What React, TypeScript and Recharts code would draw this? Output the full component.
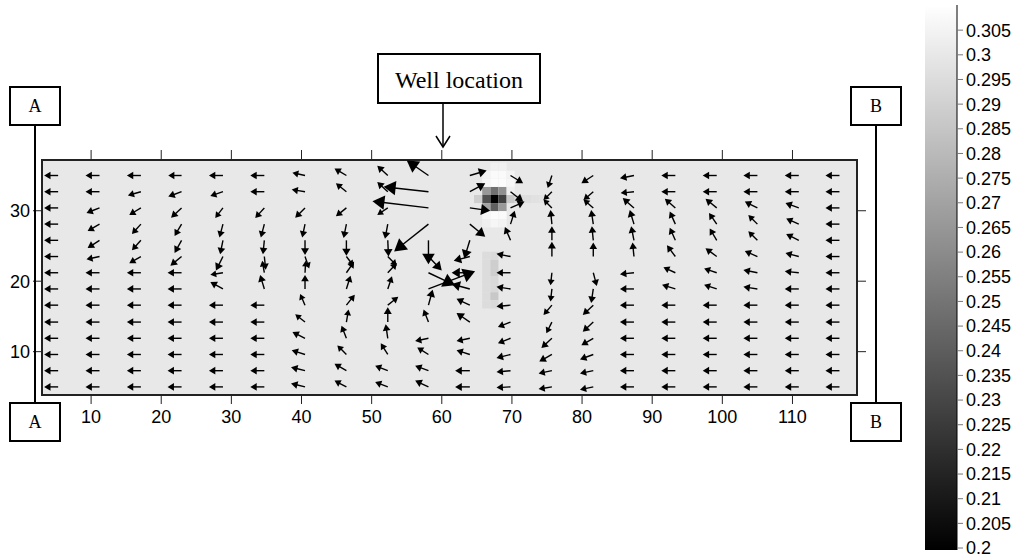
import React from "react";
import { ComposedChart, Scatter, Bar, XAxis, YAxis, ReferenceArea } from "recharts";

// arrow tail positions (model coordinates)
const gridX = [5.3, 11.2, 17.1, 22.9, 28.8, 34.7, 40.5, 46.4, 52.3, 58.1, 64.0, 69.8, 75.7, 81.6, 87.4, 93.3, 99.2, 105.0, 110.9, 116.7];
const gridY = [35.0, 32.7, 30.4, 28.1, 25.8, 23.5, 21.2, 18.9, 16.6, 14.2, 11.9, 9.6, 7.3, 5.0];

// velocity components, one row per gridY entry, one column per gridX entry
const U = [
  [-1, -1, -1, -0.95, -1, -1, -0.9, -0.85, -0.75, -1.55, 1.2, 0.9, -0.3, -0.85, -1, -1, -1, -1, -1, -1],
  [-1, -1, -0.93, -0.95, -0.9, -1, -0.95, -0.75, -0.75, -3.2, 1.1, 0.9, -0.6, -0.7, -0.95, -1, -1, -1, -1, -1],
  [-1, -0.93, -0.83, -0.75, -0.55, -0.65, -0.7, -0.75, -0.75, -4.0, 1.45, 1.0, -0.6, -0.7, -0.8, -0.75, -0.8, -0.9, -0.95, -1],
  [-1, -0.85, -0.64, -0.5, -0.25, -0.25, -0.2, -0.2, -0.2, -2.45, 1.1, 0.3, -0.1, -0.15, -0.3, -0.4, -0.55, -0.65, -0.9, -1],
  [-1, -0.85, -0.64, -0.5, -0.2, -0.1, 0, 0, 0.05, 0, -0.4, -0.4, 0, -0.1, -0.2, -0.4, -0.5, -0.65, -0.9, -1],
  [-1, -0.93, -0.83, -0.8, -0.5, 0.1, 0.3, 0.5, 0.65, 0.95, -1.15, -1, 0, 0, -0.1, -0.6, -0.8, -0.9, -0.95, -1],
  [-1, -1, -1, -1, -0.9, -0.15, 0.05, 0.55, 0.65, 1.9, -1.3, -1, -0.1, 0.25, -1, -0.85, -0.9, -1, -1, -1],
  [-1, -1, -1, -1, -0.9, -0.3, 0, 0.3, 0.3, 3.33, -1.3, -1, -0.1, -0.15, -1, -0.95, -0.9, -1, -1, -1],
  [-1, -1, -1, -1, -1, -1, -0.35, 0.6, 0.75, 0.3, -0.95, -1, -0.6, -0.75, -1, -1, -1, -1, -1, -1],
  [-1, -1, -1, -1, -1, -1, -0.7, 0.15, 0, -0.35, -0.95, -0.9, -0.4, -0.75, -1, -1, -1, -1, -1, -1],
  [-1, -1, -1, -1, -1, -1, -0.9, -0.35, -0.15, -0.95, -0.95, -0.9, -0.75, -0.85, -1, -1, -1, -1, -1, -1],
  [-1, -1, -1, -1, -1, -1, -0.95, -0.65, -0.5, -0.8, -0.95, -1, -0.9, -0.95, -1, -1, -1, -1, -1, -1],
  [-1, -1, -1, -1, -1, -1, -1, -0.85, -0.9, -0.95, -1.05, -1, -0.95, -0.95, -1, -1, -1, -1, -1, -1],
  [-1, -1, -1, -1, -1, -1, -1, -0.85, -0.9, -0.95, -1.05, -1, -0.95, -0.95, -1, -1, -1, -1, -1, -1],
];
const V = [
  [0, 0, 0, 0, 0, 0, 0.2, 0.5, 0.7, 1.07, 0.35, -0.55, -0.9, -0.55, -0.2, 0, 0, 0, 0, 0],
  [0, 0, -0.27, -0.35, -0.3, 0, 0.15, 0.6, 0.7, 0.35, 0.6, -0.7, -0.6, -0.6, -0.1, 0, 0, 0, 0, 0],
  [0, -0.36, -0.5, -0.7, -0.72, -0.72, -0.7, -0.6, -0.5, 0.48, -0.2, 0.45, 0.6, 0.6, 0.7, 0.65, 0.65, 0.45, 0.35, 0],
  [0, -0.5, -0.71, -0.85, -0.95, -0.95, -0.95, -1, -1.05, -1.95, -0.9, 0.95, 1, 1, 1, 0.9, 0.8, 0.65, 0.4, 0],
  [0, -0.55, -0.71, -0.9, -1, -1, -1.05, -1.1, -1.15, -1.7, -1.3, 0.95, 1, 1, 1, 0.9, 0.85, 0.65, 0.45, 0],
  [0, -0.2, -0.48, -0.65, -1.0, -0.95, -0.85, -0.65, -0.65, -1.0, -0.3, 0.2, 1.05, 1, 1, 0.8, 0.6, 0.4, 0.25, 0],
  [0, 0, 0, 0, -0.15, 0.85, 0.85, 0.8, 0.7, -0.9, 0, 0, -0.9, -0.95, -0.1, 0.4, 0.3, 0.2, 0.1, 0],
  [0, 0, 0, 0, 0.5, 1, 1, 0.95, 0.9, 1.26, 0.35, 0.15, -0.9, -1, 0, 0.3, 0.3, 0.15, 0, 0],
  [0, 0, 0, 0, 0, 0, 0.8, 0.75, 0.6, 1.1, 0.45, -0.1, -0.7, -0.7, 0, 0, 0, 0, 0, 0],
  [0, 0, 0, 0, 0, 0, 0.55, 0.9, 1.05, 0.9, 0.65, -0.35, -0.8, -0.7, 0, 0, 0, 0, 0, 0],
  [0, 0, 0, 0, 0, 0, 0.45, 0.9, 1, -0.2, -0.2, -0.35, -0.7, -0.5, 0, 0, 0, 0, 0, 0],
  [0, 0, 0, 0, 0, 0, 0.3, 0.65, 0.8, 0.5, 0.3, -0.25, -0.5, -0.35, 0, 0, 0, 0, 0, 0],
  [0, 0, 0, 0, 0, 0, 0.25, 0.5, 0.35, 0.35, 0, -0.1, -0.2, -0.2, 0, 0, 0, 0, 0, 0],
  [0, 0, 0, 0, 0, 0, 0.25, 0.45, 0.35, 0.45, 0, -0.05, -0.15, -0.2, 0, 0, 0, 0, 0, 0],
];

// concentration field: background value plus the cells that differ from it
const bgValue = 0.3;
const cellOriginX = 67.5;
const cellOriginY = 31.66;
const cellW = 1.16;
const cellH = 1.15;
const heatCol = [0, -1, 1, 0, 0, -1, 1, -1, 1, -2, 2, 3, 4, 5, 6, -1, 0, 1, 2, -1, 0, 1, 2, 0, 1, 2, -1, 0, 1, -1, 0, 1, -1, -1, -1, -1, -1, -1, -1, 0, 0, 0, 0, 0, 0, 0];
const heatRow = [0, 0, 0, 1, -1, 1, 1, -1, -1, 0, 0, 0, 0, 0, 0, 2, 2, 2, 2, 3, 3, 3, 3, 4, 4, 1, -2, -2, -2, -3, -3, -3, -7, -8, -9, -10, -11, -12, -13, -7, -8, -9, -10, -11, -12, -13];
const heatVal = [0.2, 0.2345, 0.2276, 0.2483, 0.2414, 0.266, 0.262, 0.27, 0.266, 0.289, 0.2863, 0.293, 0.296, 0.297, 0.298, 0.306, 0.309, 0.309, 0.306, 0.305, 0.308, 0.308, 0.305, 0.304, 0.304, 0.303, 0.306, 0.309, 0.308, 0.303, 0.306, 0.305, 0.295, 0.295, 0.295, 0.295, 0.295, 0.295, 0.295, 0.294, 0.289, 0.289, 0.293, 0.293, 0.2863, 0.294];

const xTicks = [10, 20, 30, 40, 50, 60, 70, 80, 90, 100, 110];
const yTicks = [10, 20, 30];
const colorTicks = [0.2, 0.205, 0.21, 0.215, 0.22, 0.225, 0.23, 0.235, 0.24, 0.245, 0.25, 0.255, 0.26, 0.265, 0.27, 0.275, 0.28, 0.285, 0.29, 0.295, 0.3, 0.305];

const cMin = 0.1996;
const cMax = 0.3101;
const ARROW_PX = 14;

const gray = (v: number) => {
  const t = Math.max(0, Math.min(1, (v - cMin) / (cMax - cMin)));
  const g = Math.round(t * 255);
  return `rgb(${g},${g},${g})`;
};

const arrows = gridY.flatMap((y, r) => gridX.map((x, c) => ({ x, y, u: U[r][c], v: V[r][c] })));

const cells = heatVal.map((val, i) => {
  const cx = cellOriginX + heatCol[i] * cellW;
  const cy = cellOriginY + heatRow[i] * cellH;
  return { x1: cx - cellW / 2, x2: cx + cellW / 2, y1: cy - cellH / 2, y2: cy + cellH / 2, fill: gray(val) };
});

const colorbarData = [{ name: "c", range: [cMin, cMax] }];

const Arrow = (props: any) => {
  const { cx, cy, payload } = props;
  if (cx == null || cy == null) return <g />;
  const dx = payload.u * ARROW_PX;
  const dy = -payload.v * ARROW_PX;
  const len = Math.hypot(dx, dy);
  if (len < 0.5) return <g />;
  const ux = dx / len;
  const uy = dy / len;
  const hl = Math.min(len * 0.42 + 0.5, 12);
  const hw = hl * 0.6;
  const tx = cx + dx;
  const ty = cy + dy;
  const bx = tx - ux * hl;
  const by = ty - uy * hl;
  return (
    <g>
      <line x1={cx} y1={cy} x2={bx + ux * 1} y2={by + uy * 1} stroke="#000" strokeWidth={1.4} />
      <polygon points={`${tx},${ty} ${bx - uy * hw},${by + ux * hw} ${bx + uy * hw},${by - ux * hw}`} fill="#000" />
    </g>
  );
};

const noTick = () => <g />;
const tickFont = { fontFamily: "Liberation Sans, Arial, sans-serif", fontSize: 18, fill: "#000" };
const serif = "Liberation Serif, Times New Roman, serif";

export default function App() {
  return (
    <div style={{ position: "absolute", left: 0, top: 0, width: 1024, height: 557, background: "#fff" }}>
      <svg width={0} height={0} style={{ position: "absolute" }}>
        <defs>
          <linearGradient id="cbar" x1="0" y1="1" x2="0" y2="0">
            <stop offset="0%" stopColor="#000" />
            <stop offset="100%" stopColor="#fff" />
          </linearGradient>
        </defs>
      </svg>
      <div style={{ position: "absolute", left: 0, top: 0 }}>
        <ComposedChart width={1024} height={557} margin={{ top: 150, right: 157, bottom: 122, left: 2 }}>
          <XAxis xAxisId="b" type="number" dataKey="x" domain={[3, 119.2]} allowDataOverflow ticks={xTicks} interval={0}
            orientation="bottom" height={40} tickSize={9} tickMargin={6} axisLine={false}
            tickLine={{ stroke: "#222" }} tick={tickFont} />
          <XAxis xAxisId="t" type="number" dataKey="x" domain={[3, 119.2]} allowDataOverflow ticks={xTicks} interval={0}
            orientation="top" height={10} tickSize={10} axisLine={false} tickLine={{ stroke: "#222" }} tick={noTick} />
          <YAxis yAxisId="l" type="number" dataKey="y" domain={[3.85, 37.2]} allowDataOverflow ticks={yTicks} interval={0}
            width={40} tickSize={9} tickMargin={3} axisLine={false} tickLine={{ stroke: "#222" }} tick={tickFont} />
          <YAxis yAxisId="r" type="number" dataKey="y" domain={[3.85, 37.2]} allowDataOverflow ticks={yTicks} interval={0}
            orientation="right" width={10} tickSize={9} axisLine={false} tickLine={{ stroke: "#222" }} tick={noTick} />
          <ReferenceArea xAxisId="b" yAxisId="l" x1={3} x2={119.2} y1={3.85} y2={37.2} fill={gray(bgValue)} fillOpacity={1} stroke="none" />
          {cells.map((c, i) => (
            <ReferenceArea key={i} xAxisId="b" yAxisId="l" x1={c.x1} x2={c.x2} y1={c.y1} y2={c.y2} fill={c.fill} fillOpacity={1} stroke="none" />
          ))}
          <Scatter xAxisId="b" yAxisId="l" data={arrows} shape={Arrow} isAnimationActive={false} />
          <ReferenceArea xAxisId="b" yAxisId="l" x1={3} x2={119.2} y1={3.85} y2={37.2} fill="none" stroke="#222" strokeWidth={2} />
        </ComposedChart>
      </div>
      <div style={{ position: "absolute", left: 900, top: 0 }}>
        <ComposedChart width={124} height={557} data={colorbarData} barCategoryGap={0}
          margin={{ top: 5, right: 2, bottom: 7, left: 25 }}>
          <XAxis type="category" dataKey="name" hide />
          <YAxis type="number" orientation="right" domain={[cMin, cMax]} allowDataOverflow ticks={colorTicks} interval={0}
            width={65} tickSize={6} tickMargin={3} axisLine={{ stroke: "#000" }} tickLine={{ stroke: "#777" }}
            tick={tickFont} tickFormatter={(v: number) => String(Number(v.toFixed(3)))} />
          <Bar dataKey="range" fill="url(#cbar)" isAnimationActive={false} />
        </ComposedChart>
      </div>
      <svg width={1024} height={557} style={{ position: "absolute", left: 0, top: 0, pointerEvents: "none" }}>
        <line x1={35} y1={125} x2={35} y2={403} stroke="#000" strokeWidth={2} />
        <line x1={876} y1={125} x2={876} y2={403} stroke="#000" strokeWidth={2} />
        {[
          { x: 10, y: 87, t: "A" },
          { x: 10, y: 403, t: "A" },
          { x: 851, y: 87, t: "B" },
          { x: 851, y: 403, t: "B" },
        ].map((b, i) => (
          <g key={i}>
            <rect x={b.x} y={b.y} width={50} height={38} fill="#fff" stroke="#000" strokeWidth={2} />
            <text x={b.x + 25} y={b.y + 25} textAnchor="middle" fontFamily={serif} fontSize={18}>{b.t}</text>
          </g>
        ))}
        <rect x={378} y={54} width={162} height={49} fill="#fff" stroke="#000" strokeWidth={2} />
        <text x={459} y={88} textAnchor="middle" fontFamily={serif} fontSize={24}>Well location</text>
        <line x1={443} y1={103} x2={443} y2={147} stroke="#000" strokeWidth={1.5} />
        <polyline points="436,136 443,147 450,136" fill="none" stroke="#000" strokeWidth={1.5} />
      </svg>
    </div>
  );
}
